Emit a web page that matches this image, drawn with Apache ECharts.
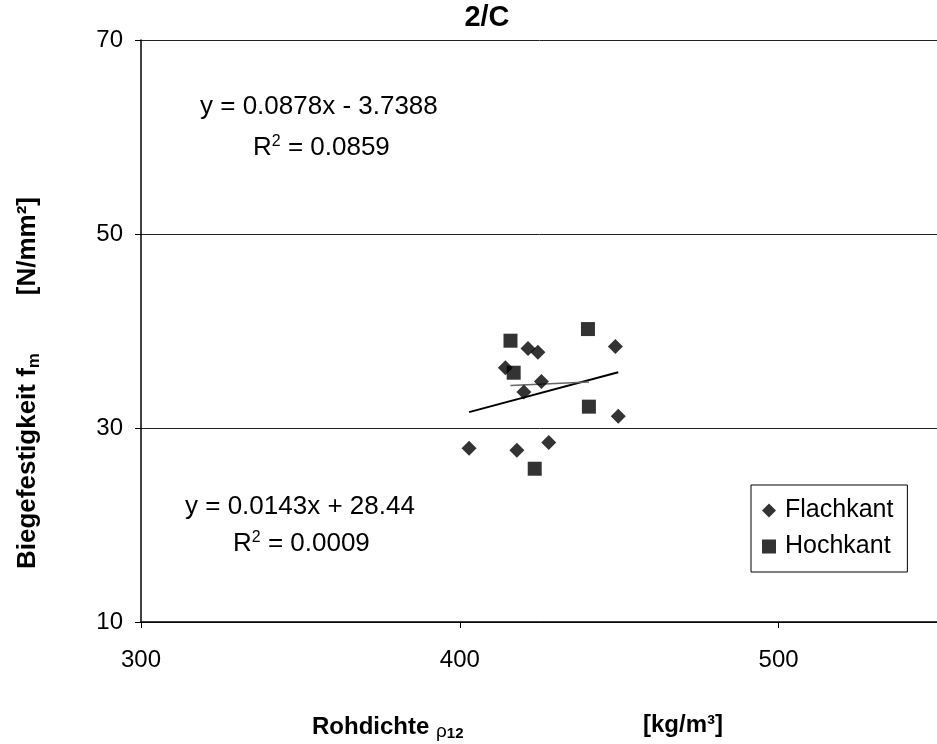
<!DOCTYPE html>
<html>
<head>
<meta charset="utf-8">
<script src="https://cdn.jsdelivr.net/npm/echarts@6/dist/echarts.min.js"></script>
<style>
  html, body { margin: 0; padding: 0; background: #fff; }
  #chart { width: 937px; height: 744px; }
</style>
</head>
<body>
<div id="chart"></div>
<script>
// Bending strength vs. density, series 2/C
const flachX = [402.9, 414.3, 417.9, 420.1, 421.4, 424.5, 425.6, 427.9, 448.8, 449.7];
const flachY = [27.9, 36.2, 27.7, 33.7, 38.2, 37.8, 34.8, 28.5, 38.4, 31.2];
const hochX = [415.9, 416.9, 423.5, 440.2, 440.5];
const hochY = [39.0, 35.7, 25.8, 40.2, 32.2];

// Linear trend coefficients [slope, intercept, R²]
const flachFit = [0.0878, -3.7388, 0.0859];
const hochFit = [0.0143, 28.44, 0.0009];

const xTicks = [300, 400, 500];
const yTicks = [10, 30, 50, 70];

const FONT = '"Liberation Sans", Arial, sans-serif';

const pairs = (xs, ys) => xs.map((x, i) => [x, ys[i]]);
const fitLine = (xs, fit) => {
  const lo = Math.min(...xs), hi = Math.max(...xs);
  return [[lo, fit[0] * lo + fit[1]], [hi, fit[0] * hi + fit[1]]];
};
const eqText = (fit) => {
  const sign = fit[1] < 0 ? ' - ' : ' + ';
  return 'y = ' + fit[0].toFixed(4) + 'x' + sign + Math.abs(fit[1]);
};
const rText = (fit) => '{a|R}{sup|2}{a| = ' + fit[2].toFixed(4) + '}';

const eqRich = {
  a: { fontSize: 26, fontFamily: FONT, color: '#000', lineHeight: 28 },
  sup: { fontSize: 16, fontFamily: FONT, color: '#000', lineHeight: 16, verticalAlign: 'top' }
};

const eqLine = (left, y, text) => ({
  type: 'text', x: left, y: y,
  style: { text: text, font: '26px ' + FONT, fill: '#000', verticalAlign: 'middle' }
});
const rLine = (left, y, fit) => ({
  type: 'text', x: left, y: y,
  style: { text: rText(fit), rich: eqRich, verticalAlign: 'middle' }
});

const chart = echarts.init(document.getElementById('chart'), null, { renderer: 'canvas' });

chart.setOption({
  backgroundColor: '#fff',
  animation: false,
  grid: {
    left: 141, top: 40, width: 797, height: 582,
    containLabel: false, outerBoundsMode: 'none'
  },
  legend: {
    data: ['Flachkant', 'Hochkant'],
    orient: 'vertical',
    left: 751, top: 485,
    padding: [13, 14, 13, 11],
    itemGap: 11,
    itemWidth: 14, itemHeight: 14,
    borderColor: '#000', borderWidth: 1,
    backgroundColor: '#fff',
    textStyle: { fontFamily: FONT, fontSize: 25, color: '#000', padding: [0, 0, 0, 4] }
  },
  xAxis: {
    type: 'value', min: 300, max: 550, interval: 100,
    axisLine: { show: true, lineStyle: { color: '#000', width: 1.5 } },
    axisTick: { show: true, length: 6, lineStyle: { color: '#000' } },
    splitLine: { show: false },
    axisLabel: {
      margin: 26, fontFamily: FONT, fontSize: 24, color: '#000',
      formatter: (v) => (xTicks.includes(v) ? String(v) : '')
    }
  },
  yAxis: {
    type: 'value', min: 10, max: 70, interval: 20,
    axisLine: { show: true, lineStyle: { color: '#000', width: 1.5 } },
    axisTick: { show: true, length: 6, lineStyle: { color: '#000' } },
    splitLine: { show: true, lineStyle: { color: '#222', width: 1 } },
    axisLabel: {
      margin: 18, fontFamily: FONT, fontSize: 24, color: '#000',
      formatter: (v) => (yTicks.includes(v) ? String(v) : '')
    }
  },
  graphic: [
    {
      type: 'text', x: 487, y: 18,
      style: {
        text: '2/C', font: 'bold 29px ' + FONT, fill: '#000',
        align: 'center', verticalAlign: 'middle'
      }
    },
    eqLine(200, 107, eqText(flachFit)),
    rLine(253, 148, flachFit),
    eqLine(185, 507, eqText(hochFit)),
    rLine(233, 544, hochFit),
    {
      type: 'text', x: 28, y: 383, rotation: Math.PI / 2,
      style: {
        text: '{b|Biegefestigkeit f}{sub|m}{b|        [N/mm²]}',
        align: 'center', verticalAlign: 'middle',
        rich: {
          b: { fontSize: 26, fontWeight: 'bold', fontFamily: FONT, color: '#000', lineHeight: 30 },
          sub: { fontSize: 17, fontWeight: 'bold', fontFamily: FONT, color: '#000', lineHeight: 17, verticalAlign: 'bottom' }
        }
      }
    },
    {
      type: 'text', x: 312, y: 727,
      style: {
        text: '{b|Rohdichte }{r|ρ}{sub|12}',
        verticalAlign: 'middle',
        rich: {
          b: { fontSize: 24, fontWeight: 'bold', fontFamily: FONT, color: '#000', lineHeight: 28 },
          r: { fontSize: 19, fontFamily: FONT, color: '#000', lineHeight: 19, verticalAlign: 'bottom' },
          sub: { fontSize: 15, fontWeight: 'bold', fontFamily: FONT, color: '#000', lineHeight: 15, verticalAlign: 'bottom' }
        }
      }
    },
    {
      type: 'text', x: 643, y: 725,
      style: { text: '[kg/m³]', font: 'bold 24px ' + FONT, fill: '#000', verticalAlign: 'middle' }
    }
  ],
  series: [
    {
      name: 'Flachkant',
      type: 'scatter',
      symbol: 'diamond', symbolSize: 15,
      itemStyle: { color: '#000' },
      data: pairs(flachX, flachY),
      z: 3
    },
    {
      name: 'Hochkant',
      type: 'scatter',
      symbol: 'rect', symbolSize: 14,
      itemStyle: { color: '#000' },
      data: pairs(hochX, hochY),
      z: 3
    },
    {
      name: 'Trend Flachkant',
      type: 'line', symbol: 'none',
      lineStyle: { color: '#000', width: 2 },
      data: fitLine(flachX, flachFit),
      z: 2
    },
    {
      name: 'Trend Hochkant',
      type: 'line', symbol: 'none',
      lineStyle: { color: '#666', width: 1.5 },
      data: fitLine(hochX, hochFit),
      z: 2
    }
  ]
});
</script>
</body>
</html>
